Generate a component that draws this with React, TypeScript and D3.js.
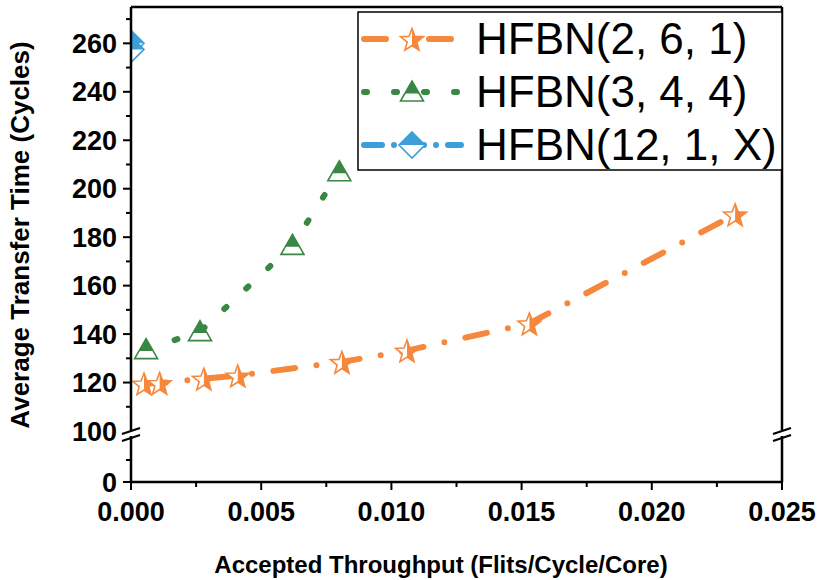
import React from "react";
import * as d3 from "d3";

const W = 824, H = 580;

const xTicks = [0, 0.005, 0.01, 0.015, 0.02, 0.025];
const xMinor = [0.0025, 0.0075, 0.0125, 0.0175, 0.0225];
const yTicksUpper = [120, 140, 160, 180, 200, 220, 240, 260];
const yMinorUpper = [110, 130, 150, 170, 190, 210, 230, 250, 270];
const yTicksLower = [0];
const yMinorLower = [50];

const s1Name = "HFBN(2, 6, 1)";
const s1x = [0.0005, 0.0011, 0.0028, 0.0041, 0.0081, 0.0106, 0.0153, 0.0232];
const s1y = [119.6, 119.8, 121.6, 122.9, 128.5, 133.2, 144.4, 189.4];

const s2Name = "HFBN(3, 4, 4)";
const s2x = [0.00058, 0.00265, 0.0062, 0.008];
const s2y = [133.6, 141, 176.6, 207];

const s3Name = "HFBN(12, 1, X)";
const s3x = [0, 0];
const s3y = [260, 257.5];

const ORANGE = "#F5883C";
const GREEN = "#3A8744";
const BLUE = "#3C9FDA";

const L = 131, R = 782, T = 7;
const x = d3.scaleLinear().domain([0, 0.025]).range([L, R]);
const yU = d3.scaleLinear().domain([100, 275]).range([431, T]);
const yL = d3.scaleLinear().domain([0, 100]).range([482, 438]);
const BOT = 482;

function starPath(Ro: number) {
  const ri = Ro * 0.42;
  const pts: [number, number][] = [];
  for (let i = 0; i < 10; i++) {
    const a = -Math.PI / 2 + (i * Math.PI) / 5;
    const r = i % 2 === 0 ? Ro : ri;
    pts.push([r * Math.cos(a), r * Math.sin(a) + 1.5]);
  }
  return "M" + pts.map((p) => p.join(",")).join("L") + "Z";
}
const triPath = "M0,-11L11.5,9L-11.5,9Z";
const diaPath = "M0,-13L13,0L0,13L-13,0Z";

type Mk = { d: string; clip: string; color: string };
const mk1: Mk = { d: starPath(12), clip: "halfRight", color: ORANGE };
const mk2: Mk = { d: triPath, clip: "topTri", color: GREEN };
const mk3: Mk = { d: diaPath, clip: "halfTop", color: BLUE };

function Marker({ cx, cy, m }: { cx: number; cy: number; m: Mk }) {
  return (
    <g transform={`translate(${cx},${cy})`}>
      <path d={m.d} fill="#fff" stroke="none" />
      <path d={m.d} fill={m.color} clipPath={`url(#${m.clip})`} />
      <path d={m.d} fill="none" stroke={m.color} strokeWidth={1.6} strokeLinejoin="miter" />
    </g>
  );
}

const dash1 = "22 21.5 0 21.5";
const dash2 = "3 27";
const dash3 = "18 12 0 12";

export default function App() {
  const line = (xs: number[], ys: number[]) =>
    d3.line<number>().x((_, i) => x(xs[i])).y((_, i) => yU(ys[i]))(xs.map((_, i) => i)) || "";

  const series = [
    { name: s1Name, xs: s1x, ys: s1y, color: ORANGE, dash: dash1, m: mk1 },
    { name: s2Name, xs: s2x, ys: s2y, color: GREEN, dash: dash2, m: mk2 },
    { name: s3Name, xs: s3x, ys: s3y, color: BLUE, dash: dash3, m: mk3 },
  ];

  const font = "'Liberation Sans', Arial, sans-serif";
  const yBreak = 435;

  const breakMarks = (ax: number) => (
    <g stroke="#000" strokeWidth={2.2}>
      <line x1={ax - 3} y1={yBreak - 2} x2={ax + 3} y2={yBreak - 2} stroke="#fff" strokeWidth={6} />
      <line x1={ax - 9} y1={yBreak - 1} x2={ax + 9} y2={yBreak - 7} />
      <line x1={ax - 9} y1={yBreak + 6} x2={ax + 9} y2={yBreak} />
    </g>
  );

  return (
    <svg width={W} height={H} style={{ position: "absolute", left: 0, top: 0, background: "#fff" }} fontFamily={font}>
      <defs>
        <clipPath id="halfRight" clipPathUnits="objectBoundingBox">
          <rect x={0.5} y={-0.1} width={0.6} height={1.2} />
        </clipPath>
        <clipPath id="halfTop" clipPathUnits="objectBoundingBox">
          <rect x={-0.1} y={-0.1} width={1.2} height={0.6} />
        </clipPath>
        <clipPath id="topTri" clipPathUnits="objectBoundingBox">
          <rect x={-0.1} y={-0.1} width={1.2} height={0.72} />
        </clipPath>
        <clipPath id="plotClip">
          <rect x={L} y={T} width={R - L + 30} height={431 - T} />
        </clipPath>
      </defs>
      <rect x={0} y={0} width={W} height={H} fill="#fff" />

      {/* data */}
      <g clipPath="url(#plotClip)">
        {series.map((s) => (
          <path key={s.name} d={line(s.xs, s.ys)} fill="none" stroke={s.color} strokeWidth={6}
            strokeDasharray={s.dash} strokeLinecap="round" />
        ))}
        {series.map((s) =>
          s.xs.map((v, i) => <Marker key={s.name + i} cx={x(v)} cy={yU(s.ys[i])} m={s.m} />)
        )}
      </g>

      {/* frame */}
      <g stroke="#000" strokeWidth={2.5} fill="none">
        <line x1={L} y1={T} x2={R} y2={T} />
        <line x1={L} y1={T} x2={L} y2={BOT} />
        <line x1={R} y1={T} x2={R} y2={BOT} />
        <line x1={L - 1} y1={BOT} x2={R + 1} y2={BOT} />
      </g>
      {breakMarks(L)}
      {breakMarks(R)}

      {/* ticks */}
      <g stroke="#000" strokeWidth={2}>
        {xTicks.map((t) => <line key={t} x1={x(t)} x2={x(t)} y1={BOT} y2={BOT + 8} />)}
        {xMinor.map((t) => <line key={t} x1={x(t)} x2={x(t)} y1={BOT} y2={BOT + 5} />)}
        {yTicksUpper.map((t) => <line key={t} x1={L} x2={L - 8} y1={yU(t)} y2={yU(t)} />)}
        {yMinorUpper.map((t) => <line key={t} x1={L} x2={L - 5} y1={yU(t)} y2={yU(t)} />)}
        {yTicksLower.map((t) => <line key={t} x1={L} x2={L - 8} y1={yL(t)} y2={yL(t)} />)}
        {yMinorLower.map((t) => <line key={t} x1={L} x2={L - 5} y1={yL(t)} y2={yL(t)} />)}
      </g>
      <g fontSize={27} fontWeight="bold" fill="#000">
        {xTicks.map((t) => (
          <text key={t} x={x(t)} y={BOT + 39} textAnchor="middle">{d3.format(".3f")(t)}</text>
        ))}
        {yTicksUpper.map((t) => (
          <text key={t} x={L - 14} y={yU(t) + 9.5} textAnchor="end">{t}</text>
        ))}
        <text x={L - 14} y={yU(100) + 9.5} textAnchor="end">100</text>
        {yTicksLower.map((t) => (
          <text key={t} x={L - 14} y={yL(t) + 9.5} textAnchor="end">{t}</text>
        ))}
      </g>

      {/* axis titles */}
      <text x={441} y={573} textAnchor="middle" fontSize={24} fontWeight="bold">
        Accepted Throughput (Flits/Cycle/Core)
      </text>
      <text transform={`translate(29,235) rotate(-90)`} textAnchor="middle" fontSize={26} fontWeight="bold">
        Average Transfer Time (Cycles)
      </text>

      {/* legend */}
      <rect x={358} y={12} width={R - 358} height={158} fill="#fff" stroke="#000" strokeWidth={1.5} />
      {series.map((s, i) => {
        const cy = 39 + i * 53;
        return (
          <g key={s.name}>
            <line x1={364} x2={461} y1={cy} y2={cy} stroke={s.color} strokeWidth={6}
              strokeDasharray={s.dash} strokeLinecap="round" />
            <Marker cx={412} cy={cy} m={s.m} />
            <text x={476} y={cy + 15} fontSize={44} fill="#000">{s.name}</text>
          </g>
        );
      })}
    </svg>
  );
}
